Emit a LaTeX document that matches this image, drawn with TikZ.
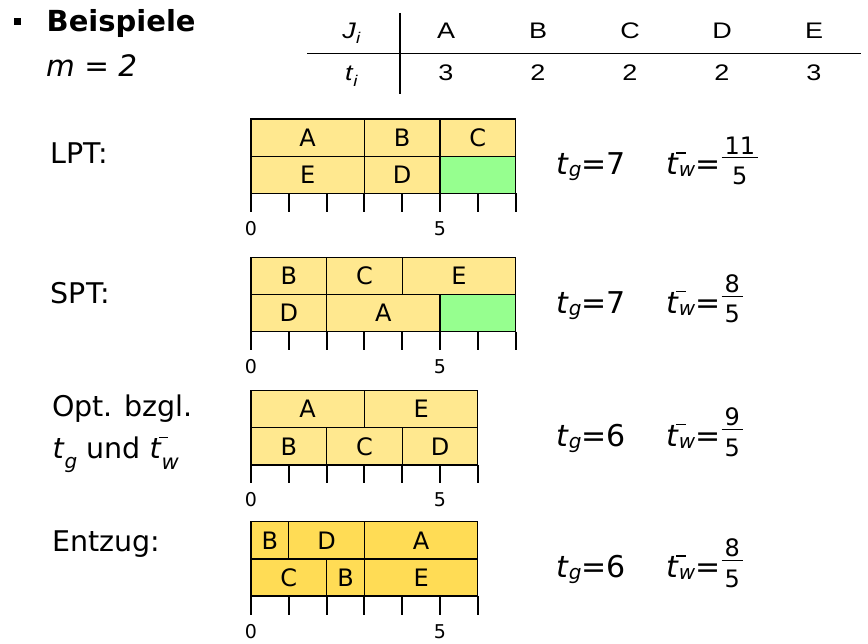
\documentclass[tikz,border=0pt]{standalone}
\usepackage{amsmath}
\usepackage{fontspec}
\setmainfont{DejaVu Sans}
\newfontfamily\tabfont{Liberation Sans}

\definecolor{jobyellow}{HTML}{FFE88F}
\definecolor{jobgold}{HTML}{FFDC55}
\definecolor{idlegreen}{HTML}{96FF8F}

\newcommand{\fs}[1]{\fontsize{#1}{#1}\selectfont}
% small lowered index letter
\newcommand{\idx}[3]{\raisebox{#1}{\fs{#2}\textit{#3}}}
% t with the bar set off to the right
\newcommand{\tb}{\textit{t}\rlap{\kern-0.1em\raisebox{0.7em}{\rule{0.33em}{0.05em}}}}
\newcommand{\frc}[2]{\raisebox{10.8pt}{$\genfrac{}{}{1.2pt}{1}{\text{\fs{24}\kern3pt#1\kern3pt}}{\text{\fs{24}\rule{0pt}{25pt}\kern3pt#2\kern3pt}}$}}
% the table text is set wide
\newcommand{\wide}[1]{\scalebox{1.2}[1]{#1}}
\newcommand{\tunit}{37.8}
% one job: row top, start, length, text, colour, name
\newcommand{\job}[6]{\node[jobbox, fill=#5, minimum width={#3*\tunit*1pt}] (#6) at ({251+#2*\tunit},#1) {#4};}

\begin{document}
\begin{tikzpicture}[x=1pt, y=-1pt,
    jobbox/.style={draw, line width=1.3pt, minimum height=37.2pt, inner sep=0pt, outer sep=0pt, anchor=north west, font=\fs{24}},
    tickline/.style={line width=2pt},
    ticklabel/.style={font=\fs{19}, inner sep=0pt},
    rowlabel/.style={font=\fs{28.5}, anchor=base west, inner sep=0pt},
    formula/.style={font=\fs{30}, anchor=base west, inner sep=0pt},
    tabcell/.style={font=\tabfont\fs{22.5}, anchor=base, inner sep=0pt}]
\useasboundingbox (0,0) rectangle (868,644);

\node[fill, minimum size=7pt, inner sep=0pt] (bullet) at (17,22) {};
\node[font=\bfseries\fs{29}, anchor=base west, inner sep=0pt] (title) at (46.5,32) {Beispiele};
\node[font=\itshape\fs{29.5}, anchor=base west, inner sep=0pt] (mval) at (46,77) {m = 2};

% table of jobs
\draw[line width=1.6pt] (400,13) -- (400,94);
\draw[line width=1.6pt] (307,53.5) -- (861,53.5);
\node[tabcell] (jhead) at (351.5,39) {\wide{\textit{J}\idx{-5pt}{15.5}{i}}};
\node[tabcell] (thead) at (351.5,80.7) {\wide{\textit{t}\idx{-6pt}{15.5}{i}}};
\foreach \j/\t [count=\k from 0] in {A/3,B/2,C/2,D/2,E/3} {
  \node[tabcell] (job\j) at (446+\k*92,39) {\wide{\j}};
  \node[tabcell] (time\j) at (446+\k*92,80.7) {\wide{\t}};
}

% LPT
\node[rowlabel] (lptlabel) at (50.7,163.5) {LPT:};
\job{119}{0}{3}{A}{jobyellow}{lptA}
\job{119}{3}{2}{B}{jobyellow}{lptB}
\job{119}{5}{2}{C}{jobyellow}{lptC}
\job{156.2}{0}{3}{E}{jobyellow}{lptE}
\job{156.2}{3}{2}{D}{jobyellow}{lptD}
\job{156.2}{5}{2}{}{idlegreen}{lptidle}
\foreach \i in {0,...,7} \draw[tickline] ({251+\i*\tunit},193.4) -- ++(0,18.5);
\node[ticklabel] (lptzero) at (251,228.5) {0};
\node[ticklabel] (lptfive) at (440,228.5) {5};
\node[formula] (lpttg) at (556,174.9) {\textit{t}\idx{-2pt}{20}{g}=7};
\node[formula] (lpttw) at (666,174.9) {\tb\idx{-2pt}{20}{w}=\frc{11}{5}};

% SPT
\node[rowlabel] (sptlabel) at (50.7,303.5) {SPT:};
\job{257.3}{0}{2}{B}{jobyellow}{sptB}
\job{257.3}{2}{2}{C}{jobyellow}{sptC}
\job{257.3}{4}{3}{E}{jobyellow}{sptE}
\job{294.5}{0}{2}{D}{jobyellow}{sptD}
\job{294.5}{2}{3}{A}{jobyellow}{sptA}
\job{294.5}{5}{2}{}{idlegreen}{sptidle}
\foreach \i in {0,...,7} \draw[tickline] ({251+\i*\tunit},331.7) -- ++(0,18.5);
\node[ticklabel] (sptzero) at (251,366.8) {0};
\node[ticklabel] (sptfive) at (440,366.8) {5};
\node[formula] (spttg) at (556,313.2) {\textit{t}\idx{-2pt}{20}{g}=7};
\node[formula] (spttw) at (666,313.2) {\tb\idx{-2pt}{20}{w}=\frc{8}{5}};

% optimal
\node[rowlabel] (optlabel) at (51.8,417) {Opt. bzgl.};
\node[rowlabel] (optlabelb) at (52.3,458) {\textit{t}\idx{-10pt}{20}{g} und \tb\idx{-11pt}{21}{w}};
\job{390.5}{0}{3}{A}{jobyellow}{optA}
\job{390.5}{3}{3}{E}{jobyellow}{optE}
\job{427.7}{0}{2}{B}{jobyellow}{optB}
\job{427.7}{2}{2}{C}{jobyellow}{optC}
\job{427.7}{4}{2}{D}{jobyellow}{optD}
\foreach \i in {0,...,6} \draw[tickline] ({251+\i*\tunit},464.9) -- ++(0,18.5);
\node[ticklabel] (optzero) at (251,500) {0};
\node[ticklabel] (optfive) at (440,500) {5};
\node[formula] (opttg) at (556,446.4) {\textit{t}\idx{-2pt}{20}{g}=6};
\node[formula] (opttw) at (666,446.4) {\tb\idx{-2pt}{20}{w}=\frc{9}{5}};

% with preemption
\node[rowlabel] (entlabel) at (52.4,551) {Entzug:};
\job{521.7}{0}{1}{B}{jobgold}{entB}
\job{521.7}{1}{2}{D}{jobgold}{entD}
\job{521.7}{3}{3}{A}{jobgold}{entA}
\job{558.9}{0}{2}{C}{jobgold}{entC}
\job{558.9}{2}{1}{B}{jobgold}{entBb}
\job{558.9}{3}{3}{E}{jobgold}{entE}
\foreach \i in {0,...,6} \draw[tickline] ({251+\i*\tunit},596.1) -- ++(0,18.5);
\node[ticklabel] (entzero) at (251,631.5) {0};
\node[ticklabel] (entfive) at (440,631.5) {5};
\node[formula] (enttg) at (556,577.5) {\textit{t}\idx{-2pt}{20}{g}=6};
\node[formula] (enttw) at (666,577.5) {\tb\idx{-2pt}{20}{w}=\frc{8}{5}};
\end{tikzpicture}
\end{document}
